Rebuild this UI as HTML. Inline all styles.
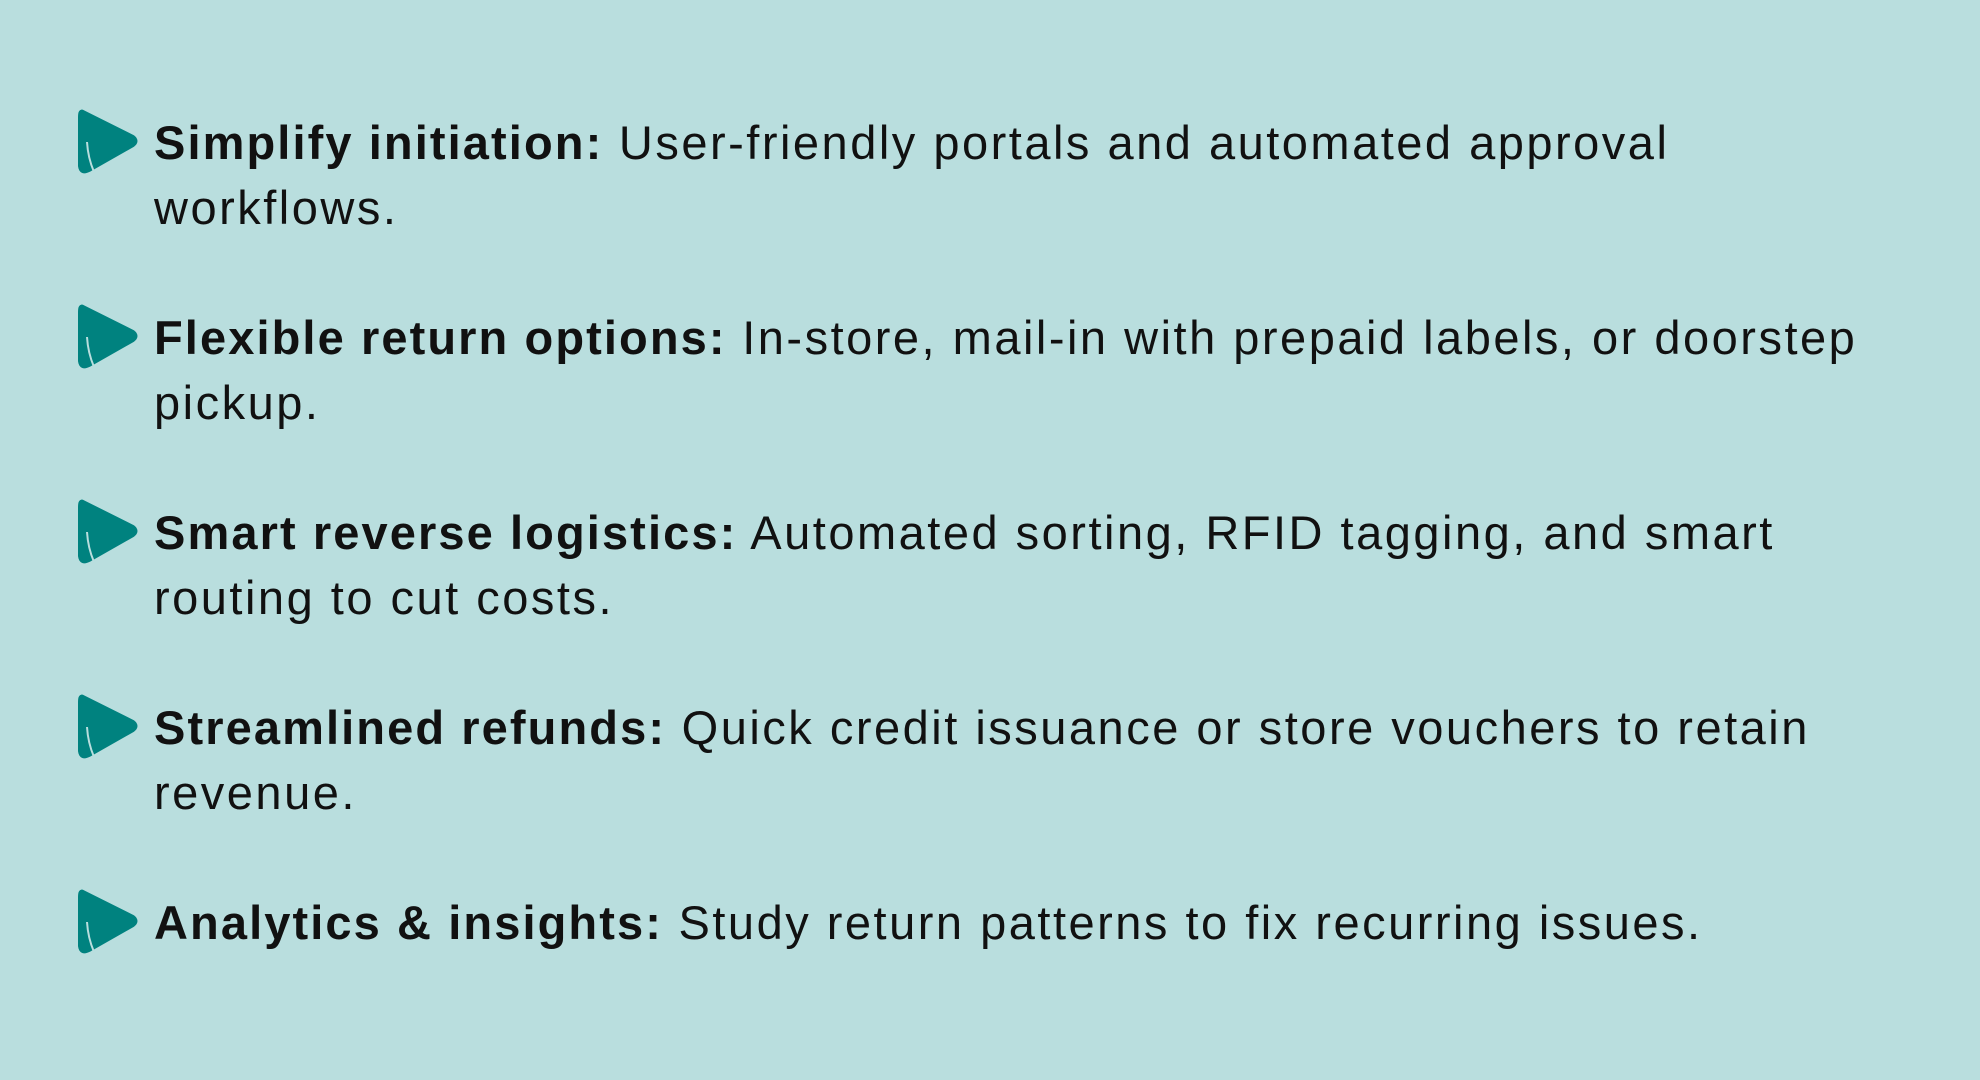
<!DOCTYPE html>
<html><head><style>
body{margin:0;width:1980px;height:1080px;background:#b9dede;overflow:hidden;font-family:"Liberation Sans",sans-serif;color:#111;}
.item{position:absolute;left:0;width:1980px;}
.icon{position:absolute;left:77px;}
.txt{position:absolute;left:154px;font-size:47px;line-height:65px;letter-spacing:2.5px;white-space:nowrap;}
b{font-weight:700;letter-spacing:2.1px;}
</style></head><body>
<svg width="0" height="0" style="position:absolute"><defs>
<symbol id="ic" viewBox="0 0 62 66">
<path d="M6 4 L56 29 Q61 33 56 37 L12 62 Q4 66 3 58 L3 9 Q3 2 6 4Z" fill="#00827f" stroke="#00827f" stroke-width="4" stroke-linejoin="round"/>
<path d="M10 34 Q11 50 17 64" stroke="#b9dede" stroke-width="2" fill="none"/>
</symbol></defs></svg>

<div class="item" style="top:108px"><svg class="icon" width="62" height="66"><use href="#ic"/></svg></div>
<div class="txt" style="top:110px"><b>Simplify initiation:</b> User-friendly portals and automated approval<br>workflows.</div>

<div class="item" style="top:303px"><svg class="icon" width="62" height="66"><use href="#ic"/></svg></div>
<div class="txt" style="top:305px"><b>Flexible return options:</b> In-store, mail-in with prepaid labels, or doorstep<br>pickup.</div>

<div class="item" style="top:498px"><svg class="icon" width="62" height="66"><use href="#ic"/></svg></div>
<div class="txt" style="top:500px"><b>Smart reverse logistics:</b> Automated sorting, RFID tagging, and smart<br>routing to cut costs.</div>

<div class="item" style="top:693px"><svg class="icon" width="62" height="66"><use href="#ic"/></svg></div>
<div class="txt" style="top:695px"><b>Streamlined refunds:</b> Quick credit issuance or store vouchers to retain<br>revenue.</div>

<div class="item" style="top:888px"><svg class="icon" width="62" height="66"><use href="#ic"/></svg></div>
<div class="txt" style="top:890px"><b>Analytics &amp; insights:</b> Study return patterns to fix recurring issues.</div>
</body></html>
